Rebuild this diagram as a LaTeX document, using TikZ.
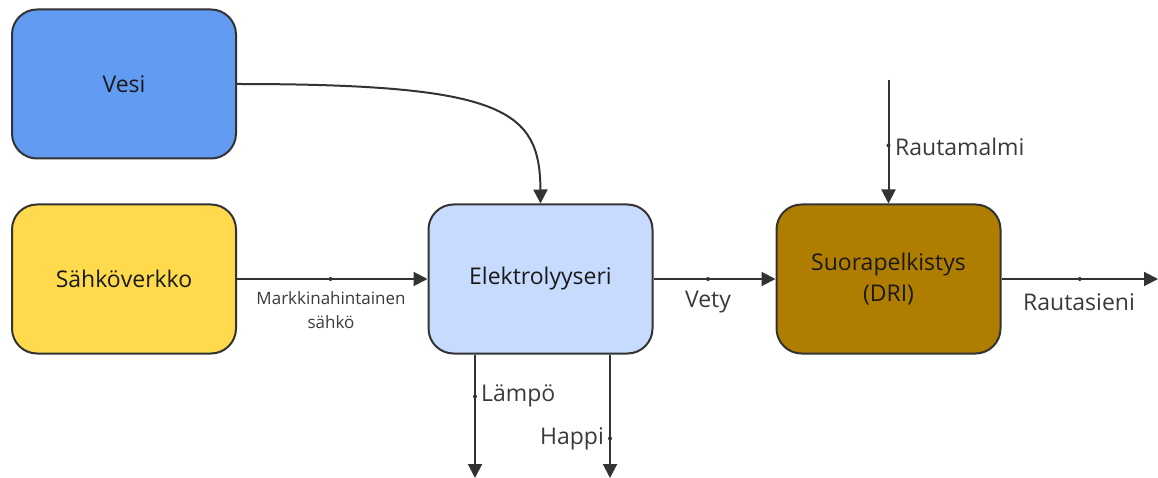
\documentclass[tikz,border=0pt]{standalone}
\usepackage{fontspec}
\setmainfont{Open Sans}
\usetikzlibrary{arrows.meta}
\definecolor{lineC}{HTML}{333333}
\definecolor{textC}{HTML}{1A1A1A}
\definecolor{labC}{HTML}{3A3A3A}
\definecolor{vesiC}{HTML}{619CF2}
\definecolor{sahkoC}{HTML}{FFDA4C}
\definecolor{elekC}{HTML}{C7DBFE}
\definecolor{driC}{HTML}{AF7D00}
\begin{document}
\begin{tikzpicture}[x=1pt,y=-1pt,
  box/.style={draw=lineC,line width=2pt,rounded corners=25pt,minimum width=224pt,minimum height=149pt,inner sep=0pt,text=textC,font=\fontsize{23}{31}\selectfont,align=center},
  conn/.style={draw=lineC,line width=2pt,-{Triangle[length=14pt,width=14pt]}},
  dot/.style={circle,fill=lineC,inner sep=0pt,minimum size=4pt},
  lab/.style={text=labC,font=\fontsize{23}{28}\selectfont,inner sep=0pt},
  smalllab/.style={text=labC,font=\fontsize{17}{24}\selectfont,inner sep=0pt,align=center}]
\useasboundingbox (0,0) rectangle (1158,478);
\node[box,fill=vesiC] (vesi) at (124,84) {Vesi};
\node[box,fill=sahkoC] (sahko) at (124,279) {Sähköverkko};
\node[box,fill=elekC] (elek) at (540.5,279) {Elektrolyyseri};
\node[box,fill=driC] (dri) at (888.5,279) {Suorapelkistys\\(DRI)};
\coordinate (rmTop) at (888.5,80);
\coordinate (rsEnd) at (1158,279);
\coordinate (lpEnd) at (475,478);
\coordinate (hpEnd) at (610,478);
% Vesi -> Elektrolyyseri
\draw[conn] (vesi.east) .. controls (505,84) and (540,110) .. (elek.north);
% Sahko -> Elektrolyyseri
\draw[conn] (sahko.east) -- node[dot,pos=0.491] (d1) {} (elek.west);
\node[smalllab] (l1) at (331,310) {Markkinahintainen\\sähkö};
% Vety
\draw[conn] (elek.east) -- node[dot,pos=0.447] (d2) {} (dri.west);
\node[lab] (l2) at (708,302) {Vety};
% Rautasieni
\draw[conn] (dri.east) -- node[dot,pos=0.5] (d3) {} (rsEnd);
\node[lab] (l3) at (1079,302) {Rautasieni};
% Rautamalmi
\draw[conn] (rmTop) -- node[dot,pos=0.53] (d4) {} (dri.north);
\node[lab,anchor=west] (l4) at (895,147) {Rautamalmi};
% Lampo
\path (elek.south) ++(-65.5,0) coordinate (lpStart);
\path (elek.south) ++(69.5,0) coordinate (hpStart);
\draw[conn] (lpStart) -- node[dot,pos=0.34] (d5) {} (lpEnd);
\node[lab,anchor=west] (l5) at (481,396) {Lämpö};
\draw[conn] (hpStart) -- node[dot,pos=0.68] (d6) {} (hpEnd);
\node[lab,anchor=east] (l6) at (604,439) {Happi};
\end{tikzpicture}
\end{document}
